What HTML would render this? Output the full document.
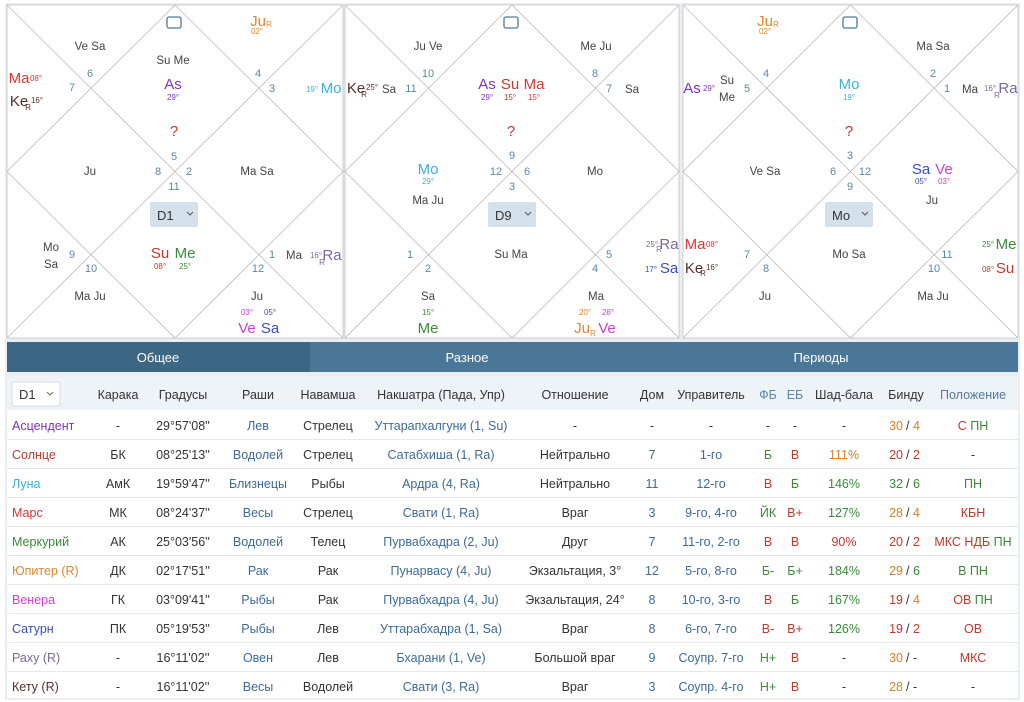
<!DOCTYPE html>
<html><head><meta charset="utf-8"><style>
html,body{margin:0;padding:0;background:#fff;}
svg{display:block;font-family:"Liberation Sans Narrow","Liberation Sans",sans-serif;fill:#333;}
.n{fill:#5a87a8;font-size:11px;text-anchor:middle}
.p{fill:#444;font-size:11.5px;text-anchor:middle}
.b{font-size:15px;text-anchor:middle}
.d{font-size:8px;text-anchor:middle}
.t{font-size:12.5px;text-anchor:middle}
.h{font-size:12.5px;text-anchor:middle}
.l{font-size:12.5px;text-anchor:middle;fill:#3d6a98}
.L{font-size:12.5px}
</style></head><body>
<svg width="1024" height="702" viewBox="0 0 1024 702">
<rect x="0" y="0" width="1024" height="702" fill="#fff"/>
<rect x="5" y="3" width="1015" height="697" fill="#e8eef3"/>
<g stroke="#c4c4c4" stroke-width="0.8" fill="#fff">
<rect x="7" y="5" width="336" height="333"/>
<rect x="345" y="5" width="334" height="333"/>
<rect x="683" y="5" width="335" height="333"/>
</g>
<g stroke="#bbb" stroke-width="0.8" fill="none">
<path d="M7 5L343 338M343 5L7 338M175 5L343 171.5L175 338L7 171.5Z"/>
<path d="M345 5L679 338M679 5L345 338M512 5L679 171.5L512 338L345 171.5Z"/>
<path d="M683 5L1018 338M1018 5L683 338M850.5 5L1018 171.5L850.5 338L683 171.5Z"/>
</g>
<g fill="none" stroke="#6f8fab" stroke-width="1.6">
<rect x="167" y="17" width="14" height="11" rx="2"/>
<rect x="504" y="17" width="14" height="11" rx="2"/>
<rect x="843" y="17" width="14" height="11" rx="2"/>
</g>
<g fill="#d5e1ea">
<rect x="150" y="202" width="48" height="25" rx="2"/>
<rect x="488" y="202" width="48" height="25" rx="2"/>
<rect x="825" y="202" width="48" height="25" rx="2"/>
</g>
<g font-size="13" fill="#333">
<text x="157" y="220">D1</text><text x="495" y="220">D9</text><text x="832" y="220">Mo</text>
</g>
<g stroke="#555" fill="none" stroke-width="1">
<path d="M187 212l3 3l3-3M525 212l3 3l3-3M862 212l3 3l3-3"/>
</g>

<g>
<text class="b" x="258" y="26" fill="#e0862e">Ju</text><text class="d" x="269" y="27" fill="#e0862e">R</text>
<text class="d" x="257" y="34" fill="#e0862e">02°</text>
<text class="p" x="90" y="50">Ve Sa</text>
<text class="p" x="173" y="64">Su Me</text>
<text class="b" x="173" y="89" fill="#7b35b8">As</text><text class="d" x="173" y="100" fill="#7b35b8">29°</text>
<text class="n" x="90" y="77">6</text><text class="n" x="72" y="91">7</text>
<text class="n" x="258" y="77">4</text><text class="n" x="272" y="92">3</text>
<text class="b" x="19" y="83" fill="#d33">Ma</text><text class="d" x="36" y="81" fill="#d33">08°</text>
<text class="b" x="19" y="106" fill="#5a2e2e">Ke</text><text class="d" x="28" y="110" fill="#5a2e2e">R</text><text class="d" x="37" y="103" fill="#5a2e2e">16°</text>
<text class="d" x="312" y="92" fill="#3fb0e0">19°</text><text class="b" x="331" y="93" fill="#3fb0e0">Mo</text>
<text class="b" x="174" y="136" fill="#c0392b" font-size="13">?</text>
<text class="n" x="174" y="160">5</text><text class="n" x="158" y="175">8</text><text class="n" x="189" y="175">2</text><text class="n" x="174" y="190">11</text>
<text class="p" x="90" y="175">Ju</text><text class="p" x="257" y="175">Ma Sa</text>
<text class="p" x="51" y="251">Mo</text><text class="p" x="51" y="268">Sa</text>
<text class="n" x="72" y="258">9</text><text class="n" x="91" y="272">10</text>
<text class="b" x="160" y="258" fill="#c0392b">Su</text><text class="b" x="185" y="258" fill="#3a8a3a">Me</text>
<text class="d" x="160" y="269" fill="#c0392b">08°</text><text class="d" x="185" y="269" fill="#3a8a3a">25°</text>
<text class="n" x="272" y="258">1</text><text class="n" x="258" y="272">12</text>
<text class="p" x="294" y="259">Ma</text>
<text class="d" x="316" y="258" fill="#7a6a9a">16°</text><text class="d" x="322" y="265" fill="#7a6a9a">R</text><text class="b" x="332" y="260" fill="#7a6a9a">Ra</text>
<text class="p" x="90" y="300">Ma Ju</text><text class="p" x="257" y="300">Ju</text>
<text class="d" x="247" y="315" fill="#d23ed2">03°</text><text class="d" x="270" y="315" fill="#3a4fb8">05°</text>
<text class="b" x="247" y="333" fill="#d23ed2">Ve</text><text class="b" x="270" y="333" fill="#3a4fb8">Sa</text>
</g>

<g>
<text class="p" x="428" y="50">Ju Ve</text><text class="p" x="596" y="50">Me Ju</text>
<text class="b" x="356" y="93" fill="#5a2e2e">Ke</text><text class="d" x="364" y="97" fill="#5a2e2e">R</text><text class="d" x="372" y="90" fill="#5a2e2e">25°</text>
<text class="p" x="389" y="93">Sa</text>
<text class="n" x="411" y="92">11</text><text class="n" x="428" y="77">10</text>
<text class="n" x="595" y="77">8</text><text class="n" x="609" y="92">7</text><text class="p" x="632" y="93">Sa</text>
<text class="b" x="487" y="89" fill="#7b35b8">As</text><text class="b" x="510" y="89" fill="#c0392b">Su</text><text class="b" x="534" y="89" fill="#d33">Ma</text>
<text class="d" x="487" y="100" fill="#7b35b8">29°</text><text class="d" x="510" y="100" fill="#c0392b">15°</text><text class="d" x="534" y="100" fill="#d33">15°</text>
<text class="b" x="511" y="136" fill="#c0392b" font-size="13">?</text>
<text class="n" x="512" y="159">9</text><text class="n" x="496" y="175">12</text><text class="n" x="527" y="175">6</text><text class="n" x="512" y="190">3</text>
<text class="b" x="428" y="174" fill="#3fb0e0">Mo</text><text class="d" x="428" y="184" fill="#3fb0e0">29°</text>
<text class="p" x="428" y="204">Ma Ju</text><text class="p" x="595" y="175">Mo</text>
<text class="n" x="410" y="258">1</text><text class="n" x="428" y="272">2</text>
<text class="p" x="511" y="258">Su Ma</text>
<text class="n" x="609" y="258">5</text><text class="n" x="595" y="272">4</text>
<text class="d" x="652" y="247" fill="#7a6a9a">25°</text><text class="d" x="659" y="252" fill="#7a6a9a">R</text><text class="b" x="669" y="249" fill="#7a6a9a">Ra</text>
<text class="d" x="651" y="272" fill="#3a4fb8">17°</text><text class="b" x="669" y="273" fill="#3a4fb8">Sa</text>
<text class="p" x="428" y="300">Sa</text><text class="d" x="428" y="315" fill="#3a8a3a">15°</text><text class="b" x="428" y="333" fill="#3a8a3a">Me</text>
<text class="p" x="596" y="300">Ma</text>
<text class="d" x="585" y="315" fill="#e0862e">20°</text><text class="d" x="608" y="315" fill="#d23ed2">28°</text>
<text class="b" x="582" y="333" fill="#e0862e">Ju</text><text class="d" x="593" y="336" fill="#e0862e">R</text><text class="b" x="607" y="333" fill="#d23ed2">Ve</text>
</g>

<g>
<text class="b" x="765" y="26" fill="#e0862e">Ju</text><text class="d" x="776" y="27" fill="#e0862e">R</text>
<text class="d" x="765" y="34" fill="#e0862e">02°</text>
<text class="p" x="933" y="50">Ma Sa</text>
<text class="b" x="692" y="93" fill="#7b35b8">As</text><text class="d" x="709" y="91" fill="#7b35b8">29°</text>
<text class="p" x="727" y="84">Su</text><text class="p" x="727" y="101">Me</text>
<text class="n" x="747" y="92">5</text><text class="n" x="766" y="77">4</text>
<text class="n" x="933" y="77">2</text><text class="n" x="947" y="92">1</text>
<text class="p" x="970" y="93">Ma</text>
<text class="d" x="990" y="91" fill="#7a6a9a">16°</text><text class="d" x="997" y="98" fill="#7a6a9a">R</text><text class="b" x="1008" y="93" fill="#7a6a9a">Ra</text>
<text class="b" x="849" y="89" fill="#3fb0e0">Mo</text><text class="d" x="849" y="100" fill="#3fb0e0">19°</text>
<text class="b" x="849" y="136" fill="#c0392b" font-size="13">?</text>
<text class="n" x="850" y="159">3</text><text class="n" x="833" y="175">6</text><text class="n" x="865" y="175">12</text><text class="n" x="850" y="190">9</text>
<text class="p" x="765" y="175">Ve Sa</text>
<text class="b" x="921" y="174" fill="#3a4fb8">Sa</text><text class="b" x="944" y="174" fill="#d23ed2">Ve</text>
<text class="d" x="921" y="184" fill="#3a4fb8">05°</text><text class="d" x="944" y="184" fill="#d23ed2">03°</text>
<text class="p" x="932" y="204">Ju</text>
<text class="b" x="695" y="249" fill="#d33">Ma</text><text class="d" x="712" y="247" fill="#d33">08°</text>
<text class="b" x="694" y="273" fill="#5a2e2e">Ke</text><text class="d" x="703" y="276" fill="#5a2e2e">R</text><text class="d" x="712" y="270" fill="#5a2e2e">16°</text>
<text class="n" x="747" y="258">7</text><text class="n" x="766" y="272">8</text>
<text class="p" x="849" y="258">Mo Sa</text>
<text class="n" x="947" y="258">11</text><text class="n" x="934" y="272">10</text>
<text class="d" x="988" y="247" fill="#3a8a3a">25°</text><text class="b" x="1006" y="249" fill="#3a8a3a">Me</text>
<text class="d" x="988" y="272" fill="#c0392b">08°</text><text class="b" x="1005" y="273" fill="#c0392b">Su</text>
<text class="p" x="765" y="300">Ju</text><text class="p" x="933" y="300">Ma Ju</text>
</g>

<rect x="7" y="342" width="1011" height="30" fill="#4a7797"/>
<rect x="7" y="342" width="303" height="30" fill="#3b6684"/>
<g font-size="13" fill="#fff" text-anchor="middle">
<text x="158" y="362">Общее</text><text x="467" y="362">Разное</text><text x="821" y="362">Периоды</text>
</g>
<rect x="7" y="376" width="1011" height="322" fill="#fff"/>
<rect x="7" y="376" width="1011" height="34" fill="#eef3f8"/>
<rect x="12" y="382" width="48" height="24" rx="2" fill="#fff" stroke="#d5dde4"/>
<text x="19" y="399" font-size="13" fill="#333">D1</text>
<path d="M47 392l3 3l3-3" stroke="#666" fill="none"/>
<g>
<text class="h" x="118" y="399">Карака</text><text class="h" x="183" y="399">Градусы</text><text class="h" x="258" y="399">Раши</text>
<text class="h" x="328" y="399">Навамша</text><text class="h" x="441" y="399">Накшатра (Пада, Упр)</text><text class="h" x="575" y="399">Отношение</text>
<text class="h" x="652" y="399">Дом</text><text class="h" x="711" y="399">Управитель</text>
<text class="h" x="768" y="399" fill="#5a87a8">ФБ</text><text class="h" x="795" y="399" fill="#5a87a8">ЕБ</text>
<text class="h" x="844" y="399">Шад-бала</text><text class="h" x="906" y="399">Бинду</text><text class="h" x="973" y="399" fill="#5a7a98">Положение</text>
</g>
<g stroke="#e4e8ec" stroke-width="1">
<path d="M7 439.5H1018M7 468.5H1018M7 497.5H1018M7 526.5H1018M7 555.5H1018M7 584.5H1018M7 613.5H1018M7 642.5H1018M7 671.5H1018"/>
</g>
<g>
<text class="L" x="12" y="430" fill="#7b35b8">Асцендент</text>
<text class="L" x="12" y="459" fill="#c0392b">Солнце</text>
<text class="L" x="12" y="488" fill="#3fb0e0">Луна</text>
<text class="L" x="12" y="517" fill="#d33">Марс</text>
<text class="L" x="12" y="546" fill="#3a8a3a">Меркурий</text>
<text class="L" x="12" y="575" fill="#e0862e">Юпитер (R)</text>
<text class="L" x="12" y="604" fill="#d23ed2">Венера</text>
<text class="L" x="12" y="633" fill="#3a4fb8">Сатурн</text>
<text class="L" x="12" y="662" fill="#7a6a9a">Раху (R)</text>
<text class="L" x="12" y="691" fill="#5a2e2e">Кету (R)</text>
<text class="t" x="118" y="430">-</text><text class="t" x="118" y="459">БК</text><text class="t" x="118" y="488">АмК</text><text class="t" x="118" y="517">МК</text><text class="t" x="118" y="546">АК</text><text class="t" x="118" y="575">ДК</text><text class="t" x="118" y="604">ГК</text><text class="t" x="118" y="633">ПК</text><text class="t" x="118" y="662">-</text><text class="t" x="118" y="691">-</text>
<text class="t" x="183" y="430">29°57'08''</text><text class="t" x="183" y="459">08°25'13''</text><text class="t" x="183" y="488">19°59'47''</text><text class="t" x="183" y="517">08°24'37''</text><text class="t" x="183" y="546">25°03'56''</text><text class="t" x="183" y="575">02°17'51''</text><text class="t" x="183" y="604">03°09'41''</text><text class="t" x="183" y="633">05°19'53''</text><text class="t" x="183" y="662">16°11'02''</text><text class="t" x="183" y="691">16°11'02''</text>
<text class="l" x="258" y="430">Лев</text><text class="l" x="258" y="459">Водолей</text><text class="l" x="258" y="488">Близнецы</text><text class="l" x="258" y="517">Весы</text><text class="l" x="258" y="546">Водолей</text><text class="l" x="258" y="575">Рак</text><text class="l" x="258" y="604">Рыбы</text><text class="l" x="258" y="633">Рыбы</text><text class="l" x="258" y="662">Овен</text><text class="l" x="258" y="691">Весы</text>
<text class="t" x="328" y="430">Стрелец</text><text class="t" x="328" y="459">Стрелец</text><text class="t" x="328" y="488">Рыбы</text><text class="t" x="328" y="517">Стрелец</text><text class="t" x="328" y="546">Телец</text><text class="t" x="328" y="575">Рак</text><text class="t" x="328" y="604">Рак</text><text class="t" x="328" y="633">Лев</text><text class="t" x="328" y="662">Лев</text><text class="t" x="328" y="691">Водолей</text>
<text class="l" x="441" y="430">Уттарапхалгуни (1, Su)</text><text class="l" x="441" y="459">Сатабхиша (1, Ra)</text><text class="l" x="441" y="488">Ардра (4, Ra)</text><text class="l" x="441" y="517">Свати (1, Ra)</text><text class="l" x="441" y="546">Пурвабхадра (2, Ju)</text><text class="l" x="441" y="575">Пунарвасу (4, Ju)</text><text class="l" x="441" y="604">Пурвабхадра (4, Ju)</text><text class="l" x="441" y="633">Уттарабхадра (1, Sa)</text><text class="l" x="441" y="662">Бхарани (1, Ve)</text><text class="l" x="441" y="691">Свати (3, Ra)</text>
<text class="t" x="575" y="430">-</text><text class="t" x="575" y="459">Нейтрально</text><text class="t" x="575" y="488">Нейтрально</text><text class="t" x="575" y="517">Враг</text><text class="t" x="575" y="546">Друг</text><text class="t" x="575" y="575">Экзальтация, 3°</text><text class="t" x="575" y="604">Экзальтация, 24°</text><text class="t" x="575" y="633">Враг</text><text class="t" x="575" y="662">Большой враг</text><text class="t" x="575" y="691">Враг</text>
<text class="t" x="652" y="430">-</text><text class="l" x="652" y="459">7</text><text class="l" x="652" y="488">11</text><text class="l" x="652" y="517">3</text><text class="l" x="652" y="546">7</text><text class="l" x="652" y="575">12</text><text class="l" x="652" y="604">8</text><text class="l" x="652" y="633">8</text><text class="l" x="652" y="662">9</text><text class="l" x="652" y="691">3</text>
<text class="t" x="711" y="430">-</text><text class="l" x="711" y="459">1-го</text><text class="l" x="711" y="488">12-го</text><text class="l" x="711" y="517">9-го, 4-го</text><text class="l" x="711" y="546">11-го, 2-го</text><text class="l" x="711" y="575">5-го, 8-го</text><text class="l" x="711" y="604">10-го, 3-го</text><text class="l" x="711" y="633">6-го, 7-го</text><text class="l" x="711" y="662">Соупр. 7-го</text><text class="l" x="711" y="691">Соупр. 4-го</text>
<text class="t" x="768" y="430">-</text><text class="t" x="768" y="459" fill="#3a8a3a">Б</text><text class="t" x="768" y="488" fill="#c0392b">В</text><text class="t" x="768" y="517" fill="#3a8a3a">ЙК</text><text class="t" x="768" y="546" fill="#c0392b">В</text><text class="t" x="768" y="575" fill="#3a8a3a">Б-</text><text class="t" x="768" y="604" fill="#c0392b">В</text><text class="t" x="768" y="633" fill="#c0392b">В-</text><text class="t" x="768" y="662" fill="#3a8a3a">Н+</text><text class="t" x="768" y="691" fill="#3a8a3a">Н+</text>
<text class="t" x="795" y="430">-</text><text class="t" x="795" y="459" fill="#c0392b">В</text><text class="t" x="795" y="488" fill="#3a8a3a">Б</text><text class="t" x="795" y="517" fill="#c0392b">В+</text><text class="t" x="795" y="546" fill="#c0392b">В</text><text class="t" x="795" y="575" fill="#3a8a3a">Б+</text><text class="t" x="795" y="604" fill="#3a8a3a">Б</text><text class="t" x="795" y="633" fill="#c0392b">В+</text><text class="t" x="795" y="662" fill="#c0392b">В</text><text class="t" x="795" y="691" fill="#c0392b">В</text>
<text class="t" x="844" y="430">-</text><text class="t" x="844" y="459" fill="#d4802a">111%</text><text class="t" x="844" y="488" fill="#3a8a3a">146%</text><text class="t" x="844" y="517" fill="#3a8a3a">127%</text><text class="t" x="844" y="546" fill="#c0392b">90%</text><text class="t" x="844" y="575" fill="#3a8a3a">184%</text><text class="t" x="844" y="604" fill="#3a8a3a">167%</text><text class="t" x="844" y="633" fill="#3a8a3a">126%</text><text class="t" x="844" y="662">-</text><text class="t" x="844" y="691">-</text>
<g font-size="12.5" text-anchor="end">
<text x="903" y="430" fill="#d4802a">30</text><text x="903" y="459" fill="#c0392b">20</text><text x="903" y="488" fill="#3a8a3a">32</text><text x="903" y="517" fill="#d4802a">28</text><text x="903" y="546" fill="#c0392b">20</text><text x="903" y="575" fill="#d4802a">29</text><text x="903" y="604" fill="#c0392b">19</text><text x="903" y="633" fill="#c0392b">19</text><text x="903" y="662" fill="#d4802a">30</text><text x="903" y="691" fill="#d4802a">28</text>
</g>
<g font-size="12.5" fill="#333"><text x="906" y="430">/ <tspan fill="#d4802a">4</tspan></text><text x="906" y="459">/ <tspan fill="#c0392b">2</tspan></text><text x="906" y="488">/ <tspan fill="#3a8a3a">6</tspan></text><text x="906" y="517">/ <tspan fill="#d4802a">4</tspan></text><text x="906" y="546">/ <tspan fill="#c0392b">2</tspan></text><text x="906" y="575">/ <tspan fill="#3a8a3a">6</tspan></text><text x="906" y="604">/ <tspan fill="#d4802a">4</tspan></text><text x="906" y="633">/ <tspan fill="#c0392b">2</tspan></text><text x="906" y="662">/ -</text><text x="906" y="691">/ -</text></g>
<text class="t" x="973" y="430" fill="#c0392b">С <tspan fill="#3a8a3a">ПН</tspan></text>
<text class="t" x="973" y="459">-</text>
<text class="t" x="973" y="488" fill="#3a8a3a">ПН</text>
<text class="t" x="973" y="517" fill="#c0392b">КБН</text>
<text class="t" x="973" y="546" fill="#c0392b">МКС НДБ <tspan fill="#3a8a3a">ПН</tspan></text>
<text class="t" x="973" y="575" fill="#3a8a3a">В ПН</text>
<text class="t" x="973" y="604" fill="#c0392b">ОВ <tspan fill="#3a8a3a">ПН</tspan></text>
<text class="t" x="973" y="633" fill="#c0392b">ОВ</text>
<text class="t" x="973" y="662" fill="#c0392b">МКС</text>
<text class="t" x="973" y="691">-</text>
</g>
</svg>
</body></html>
